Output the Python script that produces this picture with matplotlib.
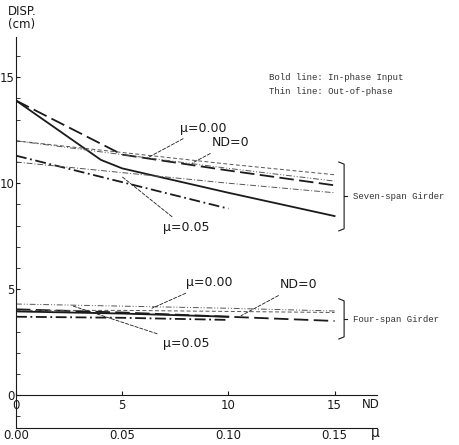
import matplotlib
matplotlib.use("Agg")
import matplotlib.pyplot as plt
from matplotlib.ticker import MultipleLocator

# data (DISP in cm vs ND / mu)
# seven-span girder
s7_solid_x = [0, 4, 5, 10, 15]
s7_solid_y = [13.9, 11.1, 10.7, 9.55, 8.45]      # bold, in-phase
s7_dash_x = [0, 5, 10, 15]
s7_dash_y = [13.9, 11.35, 10.6, 9.9]             # bold, mu=0.00
s7_dashdot_x = [0, 5, 10]
s7_dashdot_y = [11.3, 10.05, 8.8]                # bold, mu=0.05
s7_thin_x = [0, 5, 10, 15]
s7_thin_dash_y = [12.0, 11.45, 10.9, 10.4]
s7_thin_dd_y = [12.0, 11.35, 10.7, 10.1]         # ND=0
s7_thin_dashdot_y = [11.0, 10.5, 10.0, 9.55]

# four-span girder
s4_solid_x = [0, 5, 10]
s4_solid_y = [3.95, 3.85, 3.7]
s4_dash_x = [0, 5, 10, 15]
s4_dash_y = [4.05, 3.9, 3.7, 3.5]
s4_dashdot_x = [0, 5, 10]
s4_dashdot_y = [3.7, 3.65, 3.55]
s4_thin_x = [0, 5, 10, 15]
s4_thin_dd_y = [4.3, 4.2, 4.1, 3.97]
s4_thin_dash_y = [4.0, 4.0, 3.95, 3.9]

nd_ticks = [0, 5, 10, 15]
mu_ticks = [0.00, 0.05, 0.10, 0.15]

ink = "#1a1a1a"
thin = "#555555"
LONG = (0, (8, 3))
DASH = (0, (4, 2.5))
DD = (0, (6, 2, 1, 2))
DDD = (0, (6, 2, 1, 2, 1, 2))

fig = plt.figure(figsize=(4.59, 4.45), dpi=100)
ax = fig.add_axes([0.0349, 0.0382, 0.7865, 0.8787])
ax.set_xlim(0, 17)
ax.set_ylim(-1.55, 16.9)

# bold lines
ax.plot(s7_solid_x, s7_solid_y, color=ink, lw=1.3)
ax.plot(s7_dash_x, s7_dash_y, color=ink, lw=1.3, ls=LONG)
ax.plot(s7_dashdot_x, s7_dashdot_y, color=ink, lw=1.3, ls=DD)
ax.plot(s4_solid_x, s4_solid_y, color=ink, lw=1.3)
ax.plot(s4_dash_x, s4_dash_y, color=ink, lw=1.3, ls=LONG)
ax.plot(s4_dashdot_x, s4_dashdot_y, color=ink, lw=1.3, ls=DD)
# thin lines
ax.plot(s7_thin_x, s7_thin_dash_y, color=thin, lw=0.7, ls=DASH)
ax.plot(s7_thin_x, s7_thin_dd_y, color=thin, lw=0.7, ls=DDD)
ax.plot(s7_thin_x, s7_thin_dashdot_y, color=thin, lw=0.7, ls=DD)
ax.plot(s4_thin_x, s4_thin_dd_y, color=thin, lw=0.7, ls=DDD)
ax.plot(s4_thin_x, s4_thin_dash_y, color=thin, lw=0.7, ls=DASH)

# axes styling
for s in ["top", "right"]:
    ax.spines[s].set_visible(False)
ax.spines["bottom"].set_position(("data", 0))
ax.spines["left"].set_color(ink)
ax.spines["bottom"].set_color(ink)
ax.spines["left"].set_linewidth(0.8)
ax.spines["bottom"].set_linewidth(0.8)

ax.set_yticks([0, 5, 10, 15])
ax.yaxis.set_minor_locator(MultipleLocator(1))
ax.tick_params(axis="y", which="both", direction="in", length=3, pad=1,
               labelsize=8.5, colors=ink)
ax.set_xticks(nd_ticks)
ax.set_xticklabels([str(v) for v in nd_ticks])
ax.tick_params(axis="x", direction="in", length=3, pad=3, labelsize=8.5, colors=ink)

sec = ax.secondary_xaxis(0, functions=(lambda x: x / 100, lambda m: m * 100))
sec.set_xticks(mu_ticks)
sec.set_xticklabels(["%.2f" % v for v in mu_ticks])
sec.tick_params(length=0, pad=1, labelsize=8.5, colors=ink)
sec.spines["bottom"].set_linewidth(0.8)
sec.spines["bottom"].set_color(ink)

ax.text(16.3, -0.45, "ND", fontsize=8.5, color=ink, va="center", clip_on=False)
ax.text(16.7, -1.8, "\u03bc", fontsize=10, color=ink, va="center", clip_on=False)
fig.text(0.018, 0.975, "DISP.", fontsize=8.5, color=ink, va="center")
fig.text(0.018, 0.945, "(cm)", fontsize=8.5, color=ink, va="center")

# curve labels with leaders
def label(txt, tx, ty, px, py):
    ax.annotate(txt, xy=(px, py), xytext=(tx, ty), fontsize=9, color=ink,
                va="center", ha="left",
                arrowprops=dict(arrowstyle="-", color=ink, lw=0.6,
                                ls=(0, (4, 2)), shrinkA=2, shrinkB=0))

label("\u03bc=0.00", 7.7, 12.6, 6.2, 11.2)
label("ND=0", 9.2, 11.9, 8.3, 10.95)
label("\u03bc=0.05", 6.9, 7.9, 5.0, 10.3)
label("\u03bc=0.00", 8.0, 5.3, 6.4, 4.1)
label("ND=0", 12.4, 5.2, 10.6, 3.75)
label("\u03bc=0.05", 6.9, 2.45, 2.7, 4.2)

# brackets and group names
def bracket(x, y0, y1):
    ym = (y0 + y1) / 2
    ax.plot([x - 0.25, x, x, x - 0.25], [y1 + 0.1, y1, y0, y0 - 0.1],
            color=ink, lw=0.8, clip_on=False)
    ax.plot([x, x + 0.15], [ym, ym], color=ink, lw=0.8, clip_on=False)

bracket(15.45, 7.85, 10.9)
bracket(15.45, 2.75, 4.45)
mono = ["Liberation Mono", "DejaVu Sans Mono"]
ax.text(15.85, 9.35, "Seven-span Girder", family=mono, fontsize=6.5,
        color="#333333", va="center", clip_on=False)
ax.text(15.85, 3.55, "Four-span Girder", family=mono, fontsize=6.5,
        color="#333333", va="center", clip_on=False)
ax.text(11.9, 15.0, "Bold line: In-phase Input", family=mono, fontsize=6.5,
        color="#333333", va="center", clip_on=False)
ax.text(11.9, 14.35, "Thin line: Out-of-phase", family=mono, fontsize=6.5,
        color="#333333", va="center", clip_on=False)

fig.savefig("out.png", dpi=100)
